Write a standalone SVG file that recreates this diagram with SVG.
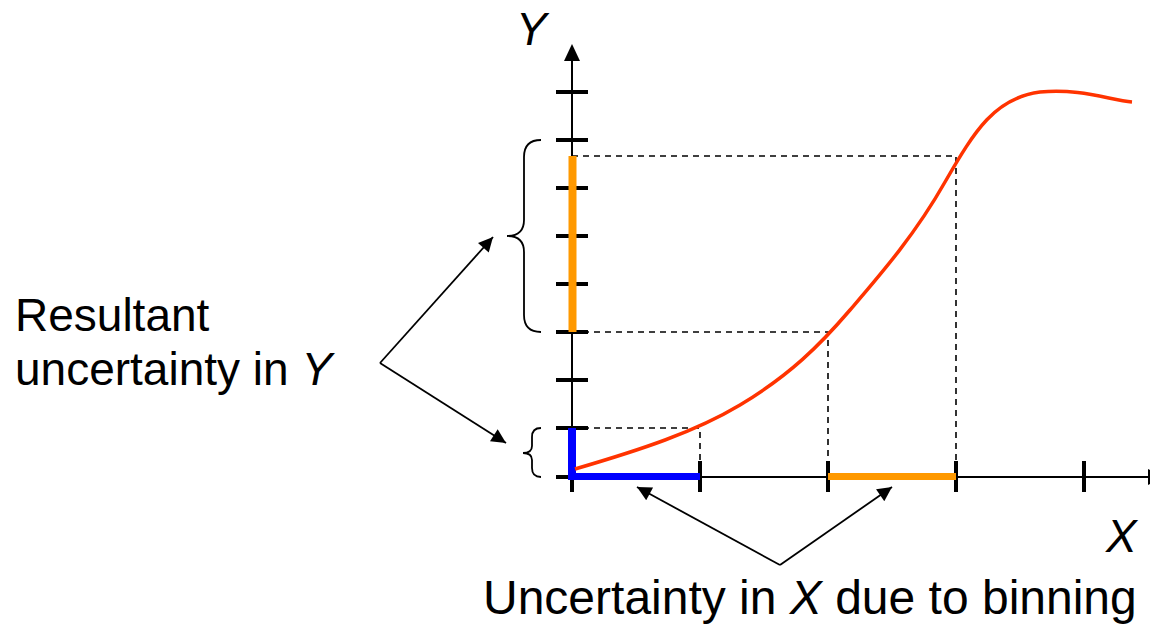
<svg xmlns="http://www.w3.org/2000/svg" width="1150" height="625" viewBox="0 0 1150 625">
  <defs>
    <style>
      .axis { stroke: #000; stroke-width: 2; fill: none; }
      .tick { stroke: #000; stroke-width: 4; }
      .dash { stroke: #000; stroke-width: 1.6; stroke-dasharray: 6 5; fill: none; }
      .brace { stroke: #000; stroke-width: 1.8; fill: none; }
      .conn { stroke: #000; stroke-width: 1.8; fill: none; }
      .lbl { font-family: "Liberation Sans", Arial, sans-serif; fill: #000; }
      .it { font-style: italic; }
    </style>
    <marker id="ah" viewBox="0 0 10 10" refX="10" refY="5" markerWidth="9" markerHeight="8" markerUnits="strokeWidth" orient="auto">
      <path d="M0,0 L10,5 L0,10 Z" fill="#000"/>
    </marker>
  </defs>

  <g id="axes">
    <line class="axis" x1="572" y1="492" x2="572" y2="58"/>
    <path d="M572,44 L580,61 L564,61 Z" fill="#000"/>
    <line class="axis" x1="556" y1="477" x2="1150" y2="477"/>
    <path d="M1164,477 L1148,469 L1148,485 Z" fill="#000"/>
  </g>

  <g id="y-ticks">
    <line class="tick" x1="556" y1="92" x2="588" y2="92"/>
    <line class="tick" x1="556" y1="140" x2="588" y2="140"/>
    <line class="tick" x1="556" y1="188" x2="588" y2="188"/>
    <line class="tick" x1="556" y1="236" x2="588" y2="236"/>
    <line class="tick" x1="556" y1="284" x2="588" y2="284"/>
    <line class="tick" x1="556" y1="332" x2="588" y2="332"/>
    <line class="tick" x1="556" y1="380" x2="588" y2="380"/>
    <line class="tick" x1="556" y1="428" x2="588" y2="428"/>
    <line class="tick" x1="556" y1="477" x2="588" y2="477"/>
  </g>

  <g id="x-ticks">
    <line class="tick" x1="572" y1="461" x2="572" y2="492"/>
    <line class="tick" x1="700" y1="461" x2="700" y2="492"/>
    <line class="tick" x1="828" y1="461" x2="828" y2="492"/>
    <line class="tick" x1="956" y1="461" x2="956" y2="492"/>
    <line class="tick" x1="1084" y1="461" x2="1084" y2="492"/>
  </g>

  <g id="guides">
    <path class="dash" d="M572,156 H956 V477"/>
    <path class="dash" d="M572,332 H828 V477"/>
    <path class="dash" d="M572,428 H700 V477"/>
  </g>

  <g id="intervals">
    <line x1="572.5" y1="156" x2="572.5" y2="332" stroke="#FF9900" stroke-width="8"/>
    <line x1="828" y1="476.5" x2="956" y2="476.5" stroke="#FF9900" stroke-width="7"/>
    <line x1="572" y1="428" x2="572" y2="480" stroke="#0000FF" stroke-width="8"/>
    <line x1="568" y1="476.5" x2="700" y2="476.5" stroke="#0000FF" stroke-width="7"/>
  </g>

  <g id="curve">
    <path d="M575,469 C640,450 695,432 740,405 C790,375 820,345 850,310 C880,275 915,235 945,182 C975,130 995,98 1040,92 C1080,88 1110,100 1132,102" fill="none" stroke="#FF3300" stroke-width="3.5"/>
  </g>

  <g id="braces">
    <path class="brace" d="M541,140 Q524,140 524,157 L524,220 Q524,236 507,236 Q524,236 524,252 L524,315 Q524,332 541,332"/>
    <path class="brace" d="M541,428 Q532,428 532,437 L532,446 Q532,453 523,453 Q532,453 532,460 L532,468 Q532,477 541,477"/>
  </g>

  <g id="connectors">
    <line class="conn" x1="380" y1="363" x2="493" y2="237" marker-end="url(#ah)"/>
    <line class="conn" x1="380" y1="363" x2="506" y2="443" marker-end="url(#ah)"/>
    <line class="conn" x1="780" y1="565" x2="637" y2="487" marker-end="url(#ah)"/>
    <line class="conn" x1="780" y1="565" x2="892" y2="487" marker-end="url(#ah)"/>
  </g>

  <g id="label-y">
    <text class="lbl it" x="516" y="45" font-size="46">Y</text>
  </g>
  <g id="label-x">
    <text class="lbl it" x="1106" y="552" font-size="46">X</text>
  </g>
  <g id="label-resultant">
    <text class="lbl" x="15" y="331" font-size="46">Resultant</text>
    <text class="lbl" x="15" y="385" font-size="46">uncertainty in <tspan class="it">Y</tspan></text>
  </g>
  <g id="label-binning">
    <text class="lbl" x="483" y="614" font-size="48">Uncertainty in <tspan class="it">X</tspan> due to binning</text>
  </g>
</svg>
